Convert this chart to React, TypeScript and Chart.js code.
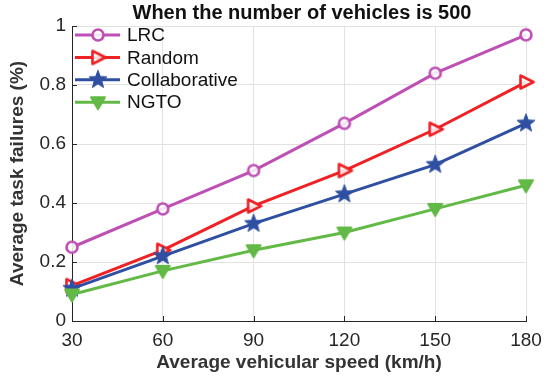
import React, { useEffect, useRef } from "react";
import { Chart, registerables } from "chart.js";

Chart.register(...registerables);

const speeds = [30, 60, 90, 120, 150, 180];
const lrc = [0.25, 0.38, 0.51, 0.67, 0.84, 0.97];
const randomSeries = [0.12, 0.24, 0.39, 0.51, 0.65, 0.81];
const collaborative = [0.11, 0.22, 0.33, 0.43, 0.53, 0.67];
const ngto = [0.09, 0.17, 0.24, 0.3, 0.38, 0.46];
const seriesNames = ["LRC", "Random", "Collaborative", "NGTO"];
const seriesColors = ["#BD4FB5", "#EE2125", "#2F4FA2", "#63B946"];
const chartTitle = "When the number of vehicles is 500";
const xTitle = "Average vehicular speed (km/h)";
const yTitle = "Average task failures (%)";

const FONT = "'Liberation Sans', Arial, sans-serif";

function makeMarker(kind: string, color: string): HTMLCanvasElement {
  const c = document.createElement("canvas");
  const s = 22;
  c.width = s;
  c.height = s;
  const ctx = c.getContext("2d")!;
  const m = s / 2;
  ctx.lineJoin = "round";
  if (kind === "circle") {
    ctx.beginPath();
    ctx.arc(m, m, 5.5, 0, Math.PI * 2);
    ctx.fillStyle = "rgba(255,255,255,0.85)";
    ctx.fill();
    ctx.lineWidth = 2.6;
    ctx.strokeStyle = color;
    ctx.stroke();
  } else if (kind === "right") {
    ctx.beginPath();
    ctx.moveTo(m + 7.5, m);
    ctx.lineTo(m - 5.5, m - 6.5);
    ctx.lineTo(m - 5.5, m + 6.5);
    ctx.closePath();
    ctx.fillStyle = "rgba(255,255,255,0.85)";
    ctx.fill();
    ctx.lineWidth = 2.6;
    ctx.strokeStyle = color;
    ctx.stroke();
  } else if (kind === "star") {
    ctx.beginPath();
    const R = 9.5;
    const r = 4.0;
    for (let i = 0; i < 10; i++) {
      const rad = i % 2 === 0 ? R : r;
      const a = -Math.PI / 2 + (i * Math.PI) / 5;
      const x = m + rad * Math.cos(a);
      const y = m + rad * Math.sin(a);
      if (i === 0) ctx.moveTo(x, y);
      else ctx.lineTo(x, y);
    }
    ctx.closePath();
    ctx.fillStyle = color;
    ctx.fill();
    ctx.lineWidth = 1;
    ctx.strokeStyle = color;
    ctx.stroke();
  } else {
    ctx.beginPath();
    ctx.moveTo(m - 7, m - 5);
    ctx.lineTo(m + 7, m - 5);
    ctx.lineTo(m, m + 7);
    ctx.closePath();
    ctx.fillStyle = color;
    ctx.fill();
    ctx.lineWidth = 2;
    ctx.strokeStyle = color;
    ctx.stroke();
  }
  return c;
}

export default function App() {
  const ref = useRef<HTMLCanvasElement>(null);
  useEffect(() => {
    if (!ref.current) return;
    const kinds = ["circle", "right", "star", "down"];
    const markers = kinds.map((k, i) => makeMarker(k, seriesColors[i]));
    const values = [lrc, randomSeries, collaborative, ngto];

    const datasets = values.map((vals, i) => ({
      label: seriesNames[i],
      data: speeds.map((x, j) => ({ x, y: vals[j] })),
      borderColor: seriesColors[i],
      backgroundColor: seriesColors[i],
      borderWidth: 3,
      pointStyle: markers[i] as any,
      pointRadius: 8,
      tension: 0,
      clip: false as any,
      order: 3 - i,
    }));

    const decor = {
      id: "decor",
      afterDraw(chart: any) {
        const { ctx, chartArea, scales } = chart;
        ctx.save();
        // inward ticks
        ctx.strokeStyle = "#262626";
        ctx.lineWidth = 1;
        speeds.forEach((v) => {
          const px = Math.round(scales.x.getPixelForValue(v)) + 0.5;
          ctx.beginPath();
          ctx.moveTo(px, chartArea.bottom);
          ctx.lineTo(px, chartArea.bottom - 5);
          ctx.stroke();
        });
        scales.y.ticks.forEach((t: any) => {
          const py = Math.round(scales.y.getPixelForValue(t.value)) + 0.5;
          ctx.beginPath();
          ctx.moveTo(chartArea.left, py);
          ctx.lineTo(chartArea.left + 5, py);
          ctx.stroke();
        });
        // title
        ctx.fillStyle = "#111";
        ctx.font = `bold 20px ${FONT}`;
        ctx.textAlign = "center";
        ctx.textBaseline = "middle";
        ctx.fillText(chartTitle, (chartArea.left + chartArea.right) / 2 + 3, 13);
        // legend
        ctx.textAlign = "left";
        ctx.font = `19px ${FONT}`;
        seriesNames.forEach((name, i) => {
          const y = 35 + i * 22.4;
          ctx.strokeStyle = seriesColors[i];
          ctx.lineWidth = 3;
          ctx.beginPath();
          ctx.moveTo(75, y);
          ctx.lineTo(120, y);
          ctx.stroke();
          ctx.drawImage(markers[i], 98 - 11, y - 11);
          ctx.fillStyle = "#111";
          ctx.fillText(name, 127, y + 1);
        });
        ctx.restore();
      },
    };

    const chart = new Chart(ref.current, {
      type: "line",
      data: { datasets: datasets as any },
      options: {
        animation: false,
        responsive: false,
        layout: { padding: { top: 26, right: 24, left: 0, bottom: 0 } },
        plugins: {
          legend: { display: false },
          tooltip: { enabled: false },
          title: { display: false },
        },
        scales: {
          x: {
            type: "linear",
            min: 30,
            max: 180,
            afterFit(scale: any) {
              scale.height = 57;
            },
            ticks: {
              stepSize: 30,
              padding: 8,
              color: "#262626",
              font: { family: FONT, size: 19 },
            },
            grid: { color: "#e2e2e2", lineWidth: 1, drawTicks: false },
            border: { display: true, color: "#262626", width: 1 },
            title: {
              display: true,
              text: xTitle,
              color: "#333",
              font: { family: FONT, size: 19, weight: "bold" },
              padding: { top: 0, bottom: 4 },
            },
          },
          y: {
            min: 0,
            max: 1,
            afterFit(scale: any) {
              scale.width = 72;
            },
            ticks: {
              stepSize: 0.2,
              padding: 6,
              color: "#262626",
              font: { family: FONT, size: 19 },
              callback: (v: any) => String(Number(Number(v).toFixed(1))),
            },
            grid: { color: "#e2e2e2", lineWidth: 1, drawTicks: false },
            border: { display: true, color: "#262626", width: 1 },
            title: {
              display: true,
              text: yTitle,
              color: "#333",
              font: { family: FONT, size: 19, weight: "bold" },
              padding: { top: 6, bottom: 0 },
            },
          },
        },
      },
      plugins: [decor],
    });
    return () => chart.destroy();
  }, []);

  return (
    <div style={{ position: "absolute", left: 0, top: 0, width: 550, height: 378, background: "#fff" }}>
      <canvas ref={ref} width={550} height={378} style={{ display: "block", width: 550, height: 378 }} />
    </div>
  );
}
